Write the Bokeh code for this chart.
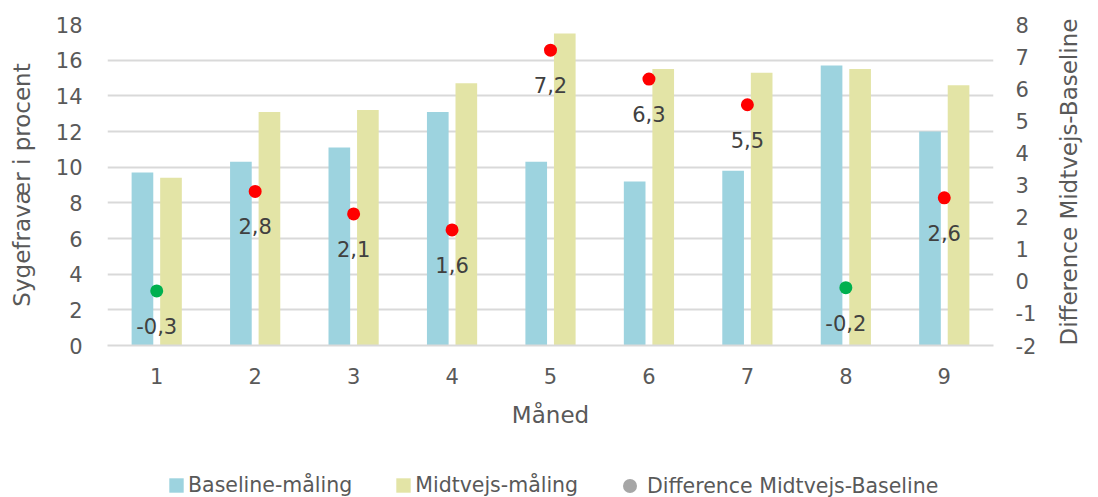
import math
from bokeh.plotting import figure
from bokeh.layouts import column
from bokeh.models import (FactorRange, Range1d, LinearAxis, FixedTicker, ColumnDataSource,
                          LabelSet, Legend, LegendItem)
from bokeh.core.properties import value
from bokeh.transform import dodge
from bokeh.embed import file_html
from bokeh.resources import INLINE

# ---- data ----
months = ["1", "2", "3", "4", "5", "6", "7", "8", "9"]
baseline = [9.7, 10.3, 11.1, 13.1, 10.3, 9.2, 9.8, 15.7, 12.0]
midtvejs = [9.4, 13.1, 13.2, 14.7, 17.5, 15.5, 15.3, 15.5, 14.6]
difference = [-0.3, 2.8, 2.1, 1.6, 7.2, 6.3, 5.5, -0.2, 2.6]
left_ticks = [0, 2, 4, 6, 8, 10, 12, 14, 16, 18]
right_ticks = [-2, -1, 0, 1, 2, 3, 4, 5, 6, 7, 8]

FONT = "DejaVu Sans"
AXIS_TXT = "#595959"
BLUE = "#9DD3DF"
YELLOW = "#E3E4A6"
GRID = "#D9D9D9"
W = 1098

src = ColumnDataSource(dict(
    month=months,
    baseline=baseline,
    midtvejs=midtvejs,
    diff=difference,
    dcolor=["#FF0000" if d > 0 else "#00B050" for d in difference],
    dlabel=[f"{d:.1f}".replace(".", ",") for d in difference],
))

p = figure(width=W, height=473, x_range=FactorRange(*months), y_range=Range1d(0, 18),
           output_backend="svg", toolbar_location=None,
           min_border_left=107, min_border_right=100, min_border_top=24, min_border_bottom=128)
p.extra_y_ranges = {"diff": Range1d(-2, 8)}
p.outline_line_color = None

p.vbar(x=dodge("month", -0.145, range=p.x_range), top="baseline", width=0.22,
       source=src, fill_color=BLUE, line_color=None)
p.vbar(x=dodge("month", 0.145, range=p.x_range), top="midtvejs", width=0.22,
       source=src, fill_color=YELLOW, line_color=None)
p.scatter(x="month", y="diff", source=src, y_range_name="diff", size=13,
          fill_color="dcolor", line_color=None)

labels = LabelSet(x="month", y="diff", text="dlabel", source=src, y_range_name="diff",
                  y_offset=-35, text_align="center", text_baseline="middle",
                  text_font=value(FONT), text_font_size="21px", text_color="#404040")
p.add_layout(labels)

# grid
p.xgrid.grid_line_color = None
p.ygrid.grid_line_color = GRID
p.ygrid.grid_line_width = 2
p.ygrid.ticker = FixedTicker(ticks=left_ticks)


def style_axis(ax, lab_standoff, title_standoff):
    ax.axis_line_color = None
    ax.major_tick_line_color = None
    ax.minor_tick_line_color = None
    ax.major_tick_out = 0
    ax.major_tick_in = 0
    ax.minor_tick_out = 0
    ax.minor_tick_in = 0
    ax.major_label_standoff = lab_standoff
    ax.axis_label_standoff = title_standoff
    ax.major_label_text_font = FONT
    ax.major_label_text_font_size = "21px"
    ax.major_label_text_color = AXIS_TXT
    ax.axis_label_text_font = FONT
    ax.axis_label_text_font_size = "23px"
    ax.axis_label_text_font_style = "normal"
    ax.axis_label_text_color = AXIS_TXT


# left axis
ya = p.yaxis[0]
ya.ticker = FixedTicker(ticks=left_ticks)
ya.axis_label = "Sygefravær i procent"
style_axis(ya, 25, 18)

# right axis (title reads bottom-to-top like the left one)
ra = LinearAxis(y_range_name="diff", ticker=FixedTicker(ticks=right_ticks),
                axis_label="Difference Midtvejs-Baseline")
style_axis(ra, 22, 30)
ra.major_label_overrides = {t: str(t) for t in right_ticks}
if "axis_label_orientation" in ra.properties():
    ra.axis_label_orientation = math.pi / 2
    ra.axis_label_align = "start"
p.add_layout(ra, "right")

# bottom axis
xa = p.xaxis[0]
xa.axis_label = "Måned"
style_axis(xa, 22, 15)
xa.axis_line_color = GRID
xa.axis_line_width = 2

# legend in a strip below the chart (its frame is aligned with the chart's frame)
leg = figure(width=W, height=24, x_range=p.x_range, y_range=Range1d(-100, -99),
             output_backend="svg", toolbar_location=None,
             x_axis_type=None, y_axis_type=None, min_border=0)
leg.outline_line_color = None
leg.grid.visible = False
# zero-size proxies (outside the strip's range) that only feed the legend swatches
l_base = leg.vbar(x="month", top="baseline", bottom="baseline", width=0, source=src,
                  fill_color=BLUE, line_color=None)
l_mid = leg.vbar(x="month", top="midtvejs", bottom="midtvejs", width=0, source=src,
                 fill_color=YELLOW, line_color=None)
l_dot = leg.scatter(x="month", y="diff", source=src, size=0,
                    fill_color="#A6A6A6", line_color=None)

common = dict(orientation="horizontal", padding=0, margin=0, border_line_color=None,
              background_fill_alpha=0, label_text_font=FONT, label_text_font_size="20.5px",
              label_text_color=AXIS_TXT)
leg1 = Legend(items=[LegendItem(label="Baseline-måling", renderers=[l_base], index=0),
                     LegendItem(label="Midtvejs-måling", renderers=[l_mid], index=0)],
              location=(60, 0), glyph_width=18, glyph_height=18,
              label_standoff=3, spacing=42, **common)
leg2 = Legend(items=[LegendItem(label="Difference Midtvejs-Baseline", renderers=[l_dot], index=0)],
              location=(505, -6), glyph_width=35, glyph_height=35,
              label_standoff=-8, spacing=0, **common)
leg.add_layout(leg1, "center")
leg.add_layout(leg2, "center")

open("out.html", "w").write(file_html(column(p, leg), INLINE))
